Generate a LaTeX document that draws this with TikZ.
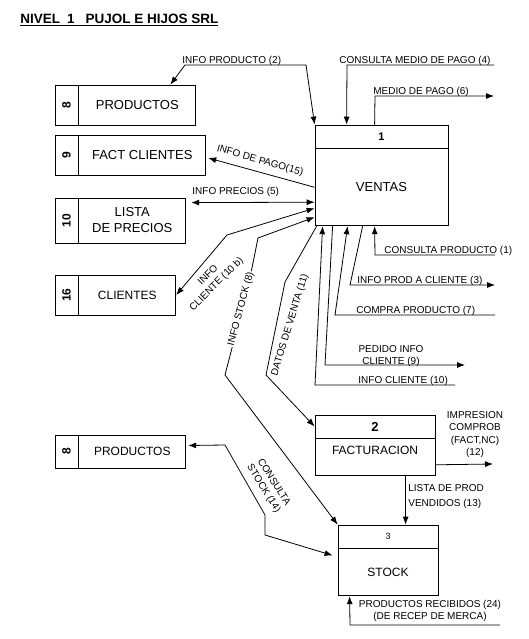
\documentclass[tikz,border=0pt]{standalone}
\usepackage{fontspec}
\setmainfont{Liberation Sans}
\usetikzlibrary{arrows.meta,positioning,calc}

\begin{document}
\begin{tikzpicture}[x=1pt, y=-1pt, line width=0.8pt,
    every node/.style={font=\fontsize{10}{12}\selectfont, inner sep=0pt},
    lbl/.style={font=\fontsize{10}{12}\selectfont},
    storenum/.style={draw, minimum width=23pt, font=\fontsize{12}{14}\selectfont\bfseries},
    storebox/.style={draw, align=center, font=\fontsize{13}{16}\selectfont},
    prochead/.style={draw, minimum height=23pt, font=\fontsize{12}{14}\selectfont\bfseries},
    procbody/.style={draw, font=\fontsize{13}{15}\selectfont},
    flow/.style={-{Latex[length=8pt,width=6pt]}},
    bothflow/.style={{Latex[length=8pt,width=6pt]}-{Latex[length=8pt,width=6pt]}}]
    \useasboundingbox (0,0) rectangle (528,639);
    \node[anchor=base west, font=\fontsize{13.5}{15}\selectfont\bfseries] (title) at (20,24)
        {\underline{NIVEL\hspace{7pt}1\hspace{11pt}PUJOL E HIJOS SRL}};

    % almacenes
    \node[storenum, minimum height=40pt] (n8) at (66.5,105) {\rotatebox{90}{8}};
    \node[storebox, minimum width=117pt, minimum height=40pt, right=0pt of n8] (prod) {PRODUCTOS};
    \node[storenum, minimum height=40pt] (n9) at (66.5,155) {\rotatebox{90}{9}};
    \node[storebox, minimum width=127pt, minimum height=40pt, right=0pt of n9] (factcli) {FACT CLIENTES};
    \node[storenum, minimum height=45pt] (n10) at (66.5,220.5) {\rotatebox{90}{10}};
    \node[storebox, minimum width=107pt, minimum height=45pt, right=0pt of n10] (lista) {LISTA\\DE PRECIOS};
    \node[storenum, minimum height=40pt] (n16) at (66.5,295) {\rotatebox{90}{16}};
    \node[storebox, minimum width=97pt, minimum height=40pt, right=0pt of n16,
        font=\fontsize{12}{14}\selectfont] (clientes) {CLIENTES};
    \node[storenum, minimum height=33pt] (n8b) at (66.5,451.5) {\rotatebox{90}{8}};
    \node[storebox, minimum width=107pt, minimum height=33pt, right=0pt of n8b,
        font=\fontsize{12}{14}\selectfont] (prod2) {PRODUCTOS};

    % procesos
    \node[prochead, minimum width=133pt, font=\fontsize{11}{13}\selectfont\bfseries] (p1) at (381.5,136.5) {1};
    \node[procbody, minimum width=133pt, minimum height=77pt, below=0pt of p1] (ventas) {VENTAS};
    \node[prochead, minimum width=120pt, font=\fontsize{13}{15}\selectfont\bfseries] (p2) at (375,426.5) {2};
    \node[procbody, minimum width=120pt, minimum height=37pt, below=0pt of p2,
        font=\fontsize{12}{14}\selectfont, text depth=14pt] (factu) {FACTURACION};
    \node[prochead, minimum width=100pt, font=\fontsize{9}{11}\selectfont] (p3) at (388,536.5) {3};
    \node[procbody, minimum width=100pt, minimum height=47pt, below=0pt of p3,
        font=\fontsize{12}{14}\selectfont] (stock) {STOCK};

    % extremos libres
    \coordinate (cmpend) at (494,65);
    \coordinate (mpend) at (494,96);
    \coordinate (cpend) at (495,255);
    \coordinate (ipcend) at (495,285);
    \coordinate (cprend) at (495,315);
    \coordinate (picend) at (465,365);
    \coordinate (iclend) at (455,385);
    \coordinate (impend) at (493,464);
    \coordinate (prend) at (500,625);

    % flujos
    \draw[bothflow] ($(prod.north west)+(92,0)$) -- (185,65) -- (306,65) -- (p1.north west);
    \draw[flow] (cmpend) -- (347,65) -- ($(p1.north west)+(32,0)$);
    \draw[flow] ($(p1.north west)+(60,0)$) -- (375,96) -- (mpend);
    \draw[flow] (ventas.west) -- ($(factcli.east)+(2,3)$);
    \draw[bothflow] ($(lista.north east)+(5,5)$) -- ($(ventas.south west)+(0,-24)$);
    \draw[bothflow] ($(ventas.south west)+(0,-18)$) -- (227,235) -- (clientes.east);
    \draw[bothflow] ($(ventas.south west)+(0,-9)$) -- (258,238) -- (252,268) -- (232,348) -- (225,375) -- (p3.north west);
    \draw[flow] ($(ventas.south west)+(2,0)$) -- (285,282) -- (266,375) -- (p2.west);
    \draw[flow] (cpend) -- (375,255) -- ($(ventas.south west)+(60,0)$);
    \draw[flow] ($(ventas.south west)+(48,0)$) -- (350,285) -- (ipcend);
    \draw[flow] (cprend) -- (335,315) -- ($(ventas.south west)+(33,0)$);
    \draw[flow] ($(ventas.south west)+(18,0)$) -- (325,365) -- (picend);
    \draw[flow] (iclend) -- (315,385) -- ($(ventas.south west)+(8,0)$);
    \draw[flow] ($(factu.east)+(0,7.5)$) -- (impend);
    \draw[flow] ($(factu.south west)+(91,0)$) -- ($(p3.north west)+(68,0)$);
    \draw[bothflow] ($(prod2.east)+(2,-6)$) -- (225,445) -- (265,515) -- (265,535) -- ($(stock.north west)+(-5,7)$);
    \draw[flow] (prend) -- (350,625) -- ($(stock.south west)+(12,0)$);

    % rotulos
    \node[lbl, anchor=base west] (l2) at (182,63.5) {INFO PRODUCTO (2)};
    \node[lbl, anchor=base west] (l4) at (339,63.5) {CONSULTA MEDIO DE PAGO (4)};
    \node[lbl, anchor=base west] (l6) at (373,94.5) {MEDIO DE PAGO (6)};
    \node[lbl, rotate=-16] (l15) at (260,161) {INFO DE PAGO(15)};
    \node[lbl, anchor=base west] (l5) at (192,194.5) {INFO PRECIOS (5)};
    \node[lbl, rotate=45, align=center] (l10b) at (212.5,280) {INFO\\CLIENTE (10 b)};
    \node[lbl, rotate=75, fill=white, inner sep=1pt] (l8) at (241,309) {INFO STOCK (8)};
    \node[lbl, rotate=73] (l11) at (290,325) {DATOS DE VENTA (11)};
    \node[lbl, anchor=base west] (l1) at (384,253.5) {CONSULTA PRODUCTO (1)};
    \node[lbl, anchor=base west] (l3) at (357,283.5) {INFO PROD A CLIENTE (3)};
    \node[lbl, anchor=base west] (l7) at (356,313.5) {COMPRA PRODUCTO (7)};
    \node[lbl, align=center] (l9) at (391,356) {PEDIDO INFO\\CLIENTE (9)};
    \node[lbl, anchor=base west] (l10) at (358,383.5) {INFO CLIENTE (10)};
    \node[lbl, align=center, font=\fontsize{10}{12.3}\selectfont] (l12) at (475,434.5) {IMPRESION\\COMPROB\\(FACT,NC)\\(12)};
    \node[lbl, align=left, anchor=north west, font=\fontsize{10}{15}\selectfont] (l13) at (408,484) {LISTA DE PROD\\VENDIDOS (13)};
    \node[lbl, rotate=-58, align=center] (l14) at (268.5,485.5) {CONSULTA\\STOCK (14)};
    \node[lbl, align=center] (l24) at (430,611) {PRODUCTOS RECIBIDOS (24)\\(DE RECEP DE MERCA)};
\end{tikzpicture}
\end{document}
